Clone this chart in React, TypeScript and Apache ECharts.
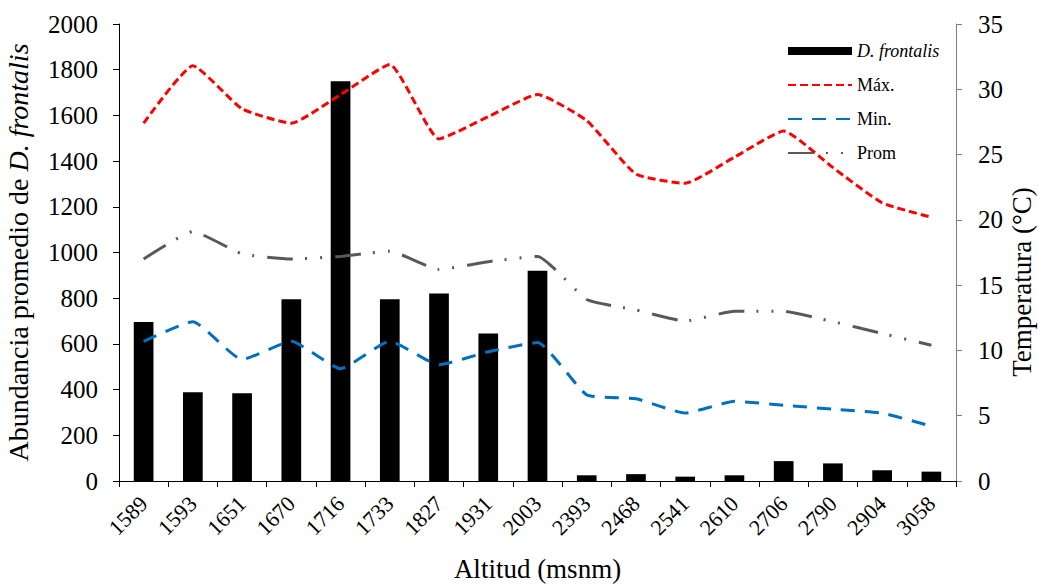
import React, { useEffect, useRef } from "react";
import * as echarts from "echarts";

const altitudes = ["1589", "1593", "1651", "1670", "1716", "1733", "1827", "1931", "2003", "2393", "2468", "2541", "2610", "2706", "2790", "2904", "3058"];
const abundance = [696, 388, 384, 795, 1749, 795, 821, 645, 920, 25, 30, 19, 25, 87, 77, 47, 41];
const tMax = [27.4, 31.8, 28.5, 27.4, 29.6, 31.9, 26.2, 27.9, 29.6, 27.6, 23.5, 22.8, 24.8, 26.8, 24.0, 21.3, 20.2];
const tMin = [10.7, 12.2, 9.3, 10.7, 8.6, 10.7, 8.9, 9.9, 10.6, 6.6, 6.3, 5.2, 6.1, 5.8, 5.5, 5.2, 4.2];
const tProm = [17.0, 19.1, 17.4, 17.0, 17.2, 17.6, 16.2, 16.8, 17.2, 13.9, 13.1, 12.25, 13.0, 13.0, 12.2, 11.3, 10.4];

const FONT = "'Liberation Serif', 'Times New Roman', serif";

export default function App() {
  const ref = useRef<HTMLDivElement>(null);
  useEffect(() => {
    const chart = echarts.init(ref.current!, null, { renderer: "svg" });
    chart.setOption({
      animation: false,
      textStyle: { fontFamily: FONT, color: "#000" },
      grid: { left: 119, right: 82, top: 24, bottom: 103, containLabel: false, outerBoundsMode: "none" },
      legend: {
        orient: "vertical",
        left: 782,
        top: 37,
        itemWidth: 64,
        itemHeight: 8,
        itemGap: 16,
        textStyle: {
          fontFamily: FONT,
          fontSize: 18,
          color: "#000",
          rich: { i: { fontStyle: "italic", fontFamily: FONT, fontSize: 18, color: "#000" } },
        },
        formatter: (name: string) => (name === "D. frontalis" ? "{i|D. frontalis}" : name),
        data: [
          { name: "D. frontalis", icon: "rect" },
          { name: "Máx.", itemStyle: { opacity: 0 } },
          { name: "Min.", itemStyle: { opacity: 0 } },
          { name: "Prom", itemStyle: { opacity: 0 } },
        ],
      },
      graphic: [
        {
          type: "text",
          x: 1022,
          y: 282,
          rotation: Math.PI / 2,
          style: {
            text: "Temperatura (°C)",
            fontFamily: FONT,
            fontSize: 27,
            fill: "#000",
            align: "center",
            verticalAlign: "middle",
          },
        },
      ],
      xAxis: {
        type: "category",
        data: altitudes,
        name: "Altitud (msnm)",
        nameLocation: "middle",
        nameGap: 74,
        nameTextStyle: { fontFamily: FONT, fontSize: 27, color: "#000" },
        axisLine: { lineStyle: { color: "#000", width: 1 } },
        axisTick: { show: true, alignWithLabel: false, length: 6, lineStyle: { color: "#000" } },
        axisLabel: { rotate: 45, fontSize: 22, fontFamily: FONT, color: "#000", margin: 19, interval: 0 },
      },
      yAxis: [
        {
          type: "value",
          min: 0,
          max: 2000,
          interval: 200,
          name: "{n|Abundancia promedio de }{i|D. frontalis}",
          nameLocation: "middle",
          nameGap: 87,
          nameTextStyle: {
            rich: {
              n: { fontFamily: FONT, fontSize: 28, color: "#000" },
              i: { fontFamily: FONT, fontSize: 28, color: "#000", fontStyle: "italic" },
            },
          },
          axisLine: { show: true, lineStyle: { color: "#000" } },
          axisTick: { show: true, length: 6, lineStyle: { color: "#000" } },
          axisLabel: { fontSize: 25, fontFamily: FONT, color: "#000", margin: 21, formatter: (v: number) => String(v) },
          splitLine: { show: false },
        },
        {
          type: "value",
          min: 0,
          max: 35,
          interval: 5,
          axisLine: { show: true, lineStyle: { color: "#7f7f7f" } },
          axisTick: { show: true, length: 6, lineStyle: { color: "#7f7f7f" } },
          axisLabel: { fontSize: 25, fontFamily: FONT, color: "#000", margin: 22, formatter: (v: number) => String(v) },
          splitLine: { show: false },
        },
      ],
      series: [
        {
          name: "D. frontalis",
          type: "bar",
          data: abundance,
          barWidth: "40%",
          itemStyle: { color: "#000" },
          yAxisIndex: 0,
        },
        {
          name: "Máx.",
          type: "line",
          yAxisIndex: 1,
          data: tMax,
          symbol: "none",
          smooth: 0.15,
          itemStyle: { color: "#ff0000" },
          lineStyle: { color: "#ff0000", width: 3, type: [8, 4] },
        },
        {
          name: "Min.",
          type: "line",
          yAxisIndex: 1,
          data: tMin,
          symbol: "none",
          smooth: 0.15,
          itemStyle: { color: "#0070c0" },
          lineStyle: { color: "#0070c0", width: 3, type: [14, 10] },
        },
        {
          name: "Prom",
          type: "line",
          yAxisIndex: 1,
          data: tProm,
          symbol: "none",
          smooth: 0.15,
          itemStyle: { color: "#595959" },
          lineStyle: { color: "#595959", width: 3, type: [26, 12, 2, 13, 2, 13] },
        },
      ],
    });
    return () => chart.dispose();
  }, []);
  return <div ref={ref} style={{ width: 1038, height: 584, position: "absolute", left: 0, top: 0 }} />;
}
